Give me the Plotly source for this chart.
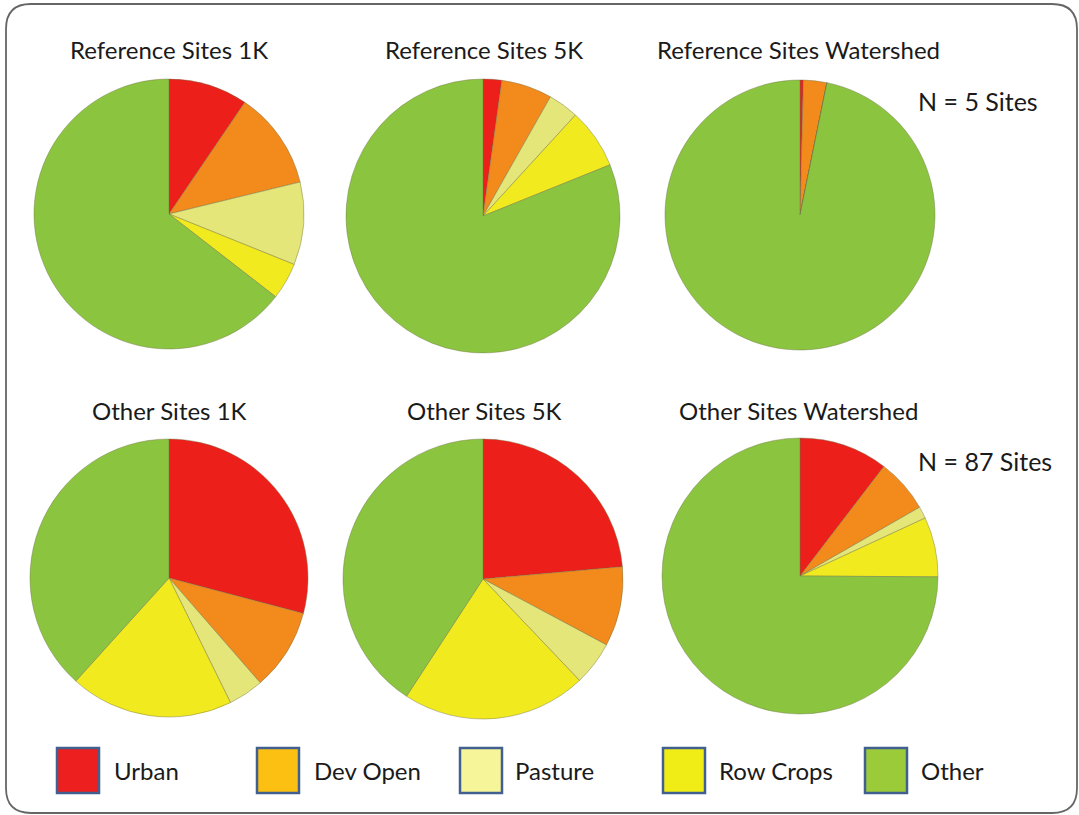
import plotly.graph_objects as go

W, H = 1079, 815

categories = ["Urban", "Dev Open", "Pasture", "Row Crops", "Other"]
pie_titles = ["Reference Sites 1K", "Reference Sites 5K", "Reference Sites Watershed",
              "Other Sites 1K", "Other Sites 5K", "Other Sites Watershed"]
ref_1k = [9.5, 11.7, 9.9, 4.4, 64.5]
ref_5k = [2.2, 6.0, 3.6, 7.1, 81.1]
ref_ws = [0.4, 2.8, 0.0, 0.0, 96.8]
oth_1k = [29.1, 9.5, 4.1, 19.0, 38.3]
oth_5k = [23.6, 9.2, 5.1, 21.3, 40.8]
oth_ws = [10.4, 6.3, 1.4, 7.0, 74.9]
n_labels = ["N = 5 Sites", "N = 87 Sites"]

pie_colors = ["#EC1F1A", "#F28B1C", "#E5E67A", "#F1EA1F", "#8BC53F"]
legend_colors = ["#EE1F1F", "#FBC012", "#F6F59A", "#F0EC16", "#9CCB3A"]

series = [ref_1k, ref_5k, ref_ws, oth_1k, oth_5k, oth_ws]
# pixel centres and radii of each pie
geom = [(169, 214, 135), (483, 216, 137), (800, 215, 135),
        (169, 578, 139), (483, 579, 140), (800, 576, 138)]

fig = go.Figure()
for vals, (cx, cy, r) in zip(series, geom):
    fig.add_trace(go.Pie(
        labels=categories, values=vals, sort=False, direction="clockwise",
        rotation=0, textinfo="none", hoverinfo="label+percent",
        marker=dict(colors=pie_colors, line=dict(color="rgba(110,110,70,0.6)", width=0.7)),
        domain=dict(x=[(cx - r) / W, (cx + r) / W],
                    y=[(H - cy - r) / H, (H - cy + r) / H]),
        showlegend=False,
    ))

FONT = "Lato"
annotations = []
title_pos = [(169, 50), (484, 50), (798, 50), (169, 410), (484, 410), (798, 410)]
for t, (x, y) in zip(pie_titles, title_pos):
    annotations.append(dict(x=x / W, y=1 - y / H, xref="paper", yref="paper", text=t,
                            showarrow=False, xanchor="center", yanchor="middle",
                            font=dict(family=FONT, size=24, color="#1a1a1a")))
for t, y in zip(n_labels, [101, 461]):
    annotations.append(dict(x=916 / W, y=1 - y / H, xref="paper", yref="paper", text=t,
                            showarrow=False, xanchor="left", yanchor="middle",
                            font=dict(family=FONT, size=25, color="#1a1a1a")))

shapes = []
# rounded border
x0, y0, x1, y1, rr = 6, 4, 1077, 813, 25
path = (f"M {x0+rr},{y0} L {x1-rr},{y0} Q {x1},{y0} {x1},{y0+rr} L {x1},{y1-rr} "
        f"Q {x1},{y1} {x1-rr},{y1} L {x0+rr},{y1} Q {x0},{y1} {x0},{y1-rr} "
        f"L {x0},{y0+rr} Q {x0},{y0} {x0+rr},{y0} Z")
shapes.append(dict(type="path", path=path, xref="x", yref="y",
                   line=dict(color="#666666", width=1.8), fillcolor="rgba(0,0,0,0)"))

leg_sq = [57, 257, 460, 663, 865]
leg_tx = [112, 312, 513, 717, 919]
for c, name, sx, tx in zip(legend_colors, categories, leg_sq, leg_tx):
    shapes.append(dict(type="rect", xref="x", yref="y", x0=sx, x1=sx + 42, y0=748, y1=793,
                       fillcolor=c, line=dict(color="#41608F", width=2.5)))
    annotations.append(dict(x=tx / W, y=1 - 770 / H, xref="paper", yref="paper", text=name,
                            showarrow=False, xanchor="left", yanchor="middle",
                            font=dict(family=FONT, size=24, color="#1a1a1a")))

fig.update_layout(
    width=W, height=H, margin=dict(l=0, r=0, t=0, b=0),
    paper_bgcolor="white", plot_bgcolor="rgba(0,0,0,0)",
    xaxis=dict(range=[0, W], visible=False, fixedrange=True),
    yaxis=dict(range=[H, 0], visible=False, fixedrange=True),
    shapes=shapes, annotations=annotations,
)
fig.write_html("out.html", config={"displayModeBar": False},
               post_script="document.body.style.margin='0';")
